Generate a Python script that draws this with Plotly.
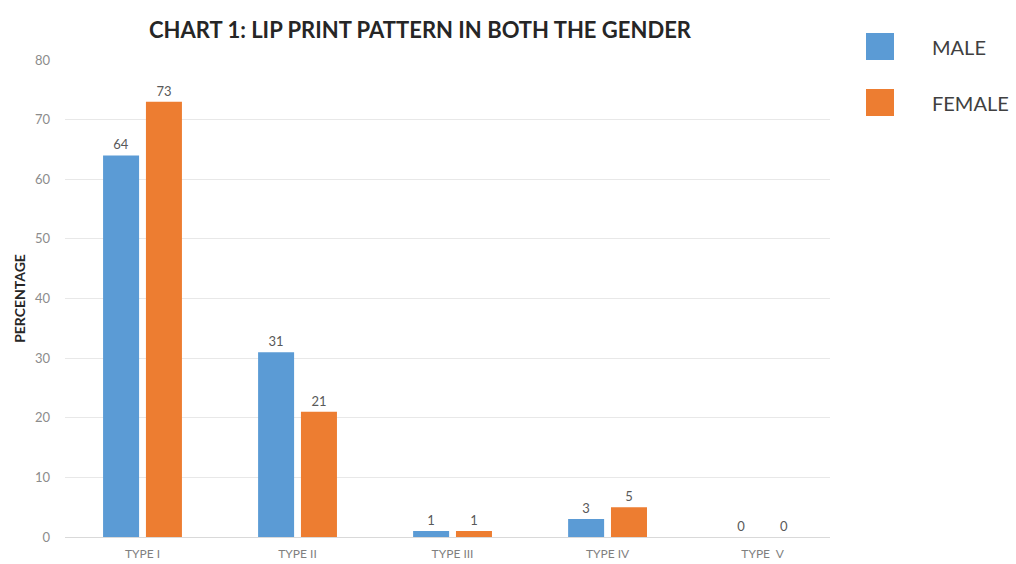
import plotly.graph_objects as go

categories = ["TYPE I", "TYPE II", "TYPE III", "TYPE IV", "TYPE  V"]
male = [64, 31, 1, 3, 0]
female = [73, 21, 1, 5, 0]
y_ticks = [0, 10, 20, 30, 40, 50, 60, 70, 80]

BLUE = "#5B9BD5"
ORANGE = "#ED7D31"
FONT = "Lato"

fig = go.Figure()
for name, vals, col in [("MALE", male, BLUE), ("FEMALE", female, ORANGE)]:
    fig.add_trace(go.Bar(
        x=categories, y=vals, name=name,
        marker=dict(color=col, line=dict(width=0)),
        text=[str(v) for v in vals], textposition="outside",
        textfont=dict(family=FONT, size=13, color="#595959"),
        cliponaxis=False, showlegend=False,
    ))

# custom legend: large squares with labels (pixel positions mapped to paper)
PL, PW, PB, PH = 65, 765, 27, 477
def px(x):
    return (x - PL) / PW
def py(y):
    return (564 - PB - y) / PH

for i, (name, col) in enumerate([("MALE", BLUE), ("FEMALE", ORANGE)]):
    top = 33 + i * 56
    fig.add_shape(type="rect", xref="paper", yref="paper",
                  x0=px(866), x1=px(894), y0=py(top + 27), y1=py(top),
                  fillcolor=col, line=dict(width=0))
    fig.add_annotation(xref="paper", yref="paper",
                       x=px(930), y=py(top + 14),
                       text=name, showarrow=False, xanchor="left", yanchor="middle",
                       font=dict(family=FONT, size=20, color="#404040"))

fig.update_layout(
    width=1016, height=564,
    margin=dict(l=PL, r=1016 - PL - PW, t=60, b=PB),
    paper_bgcolor="white", plot_bgcolor="white",
    barmode="group", bargap=0.447, bargroupgap=0.16,
    title=dict(text="<b>CHART 1: LIP PRINT PATTERN IN BOTH THE GENDER</b>",
               x=420 / 1016, xanchor="center", y=1 - 30 / 564, yanchor="middle",
               font=dict(family=FONT, size=22, color="#262626")),
    xaxis=dict(range=[-0.5, 4.435], showgrid=False, showline=False, ticks="",
               ticklabelstandoff=8, automargin=False,
               tickfont=dict(family=FONT, size=12, color="#7f7f7f")),
    yaxis=dict(range=[0, 80], tickvals=y_ticks, showgrid=True,
               gridcolor="#e8e8e8", gridwidth=1, zeroline=True,
               zerolinecolor="#d9d9d9", zerolinewidth=1,
               ticks="", ticklabelstandoff=14, automargin=False,
               tickfont=dict(family=FONT, size=13, color="#8c8c8c"),
               title=dict(text="<b>PERCENTAGE</b>", standoff=6,
                          font=dict(family=FONT, size=14, color="#262626"))),
)

fig.write_html("out.html")
